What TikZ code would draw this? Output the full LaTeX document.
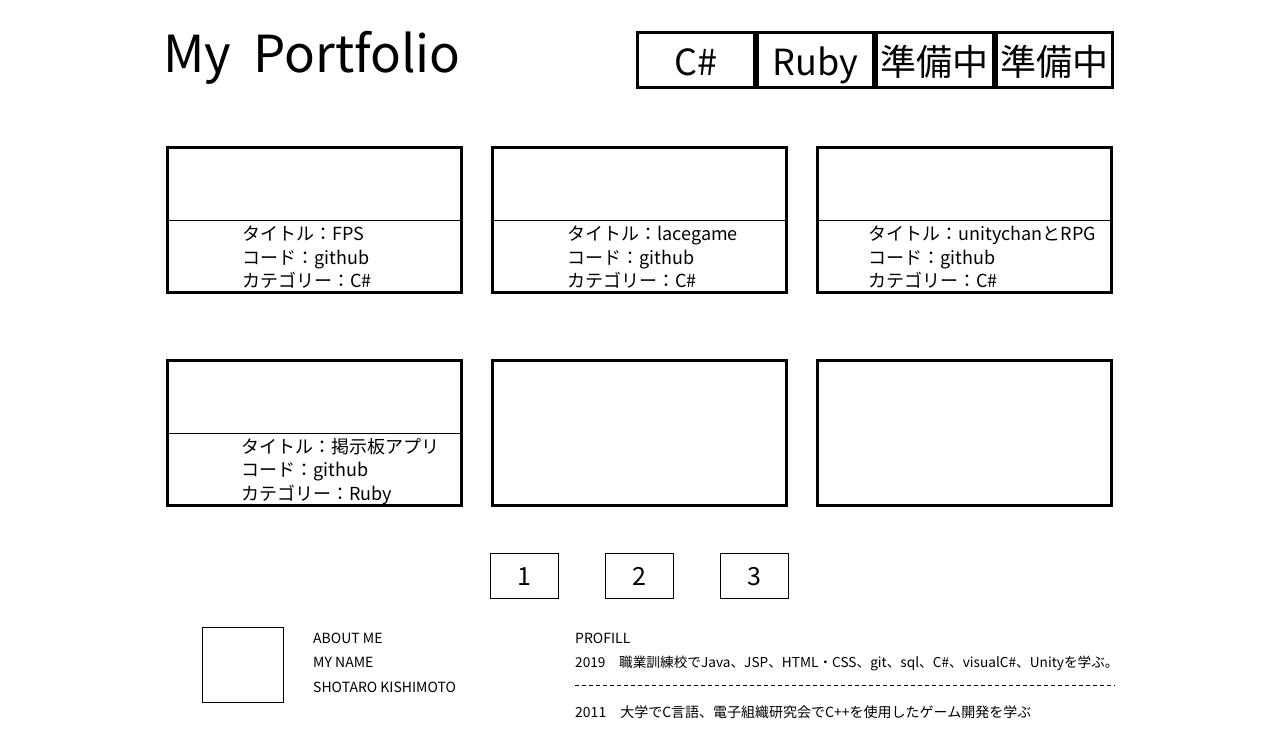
\documentclass[tikz,border=0pt]{standalone}
\usepackage{fontspec}
\setmainfont{Noto Sans CJK JP}
\usepackage{tikz}
\usetikzlibrary{matrix}

\begin{document}
\begin{tikzpicture}[x=1pt, y=-1pt,
    cardtext/.style={align=left, inner sep=0, anchor=north west, font=\fontsize{18}{23.5}\selectfont},
    small/.style={inner sep=0, anchor=west, font=\fontsize{14}{16}\selectfont}]
    \useasboundingbox (0,0) rectangle (1280,750);

    \node (title)[anchor=base west, inner sep=0, font=\fontsize{51}{56}\selectfont] at (163,72) {My\ \hspace{11pt}Portfolio};

    \matrix (tabs)[anchor=north west, inner sep=0, column sep=0pt, every node/.style={draw, line width=3pt, minimum width=116.5pt, minimum height=55pt, inner sep=0, text height=31pt, text depth=1pt, font=\fontsize{36}{40}\selectfont}] at (636,31)
    {
      \node (csharp) {C\#}; & \node (ruby) {Ruby}; & \node (soon1) {準備中}; & \node (soon2) {準備中}; \\
    };

    \matrix (works)[anchor=north west, inner sep=0, column sep=28pt, row sep=65pt, every node/.style={draw, line width=3pt, minimum width=294pt, minimum height=145pt, outer sep=0}] at (166,146)
    {
      \node (fps) {}; & \node (lace) {}; & \node (unity) {}; \\
      \node (board) {}; & \node (empty1) {}; & \node (empty2) {}; \\
    };
    \foreach \w in {fps,lace,unity,board}
      \draw[line width=0.8pt] ([yshift=-72.5pt]\w.north west) -- ([yshift=-72.5pt]\w.north east);

    \node (fpstext)[cardtext] at ([xshift=74.5pt, yshift=-78pt]fps.north west) {タイトル：FPS\\コード：github\\カテゴリー：C\#};
    \node (lacetext)[cardtext] at ([xshift=74.5pt, yshift=-78pt]lace.north west) {タイトル：lacegame\\コード：github\\カテゴリー：C\#};
    \node (unitytext)[cardtext] at ([xshift=50.5pt, yshift=-78pt]unity.north west) {タイトル：unitychanとRPG\\コード：github\\カテゴリー：C\#};
    \node (boardtext)[cardtext] at ([xshift=73.5pt, yshift=-77pt]board.north west) {タイトル：掲示板アプリ\\コード：github\\カテゴリー：Ruby};

    \matrix (pages)[anchor=north west, inner sep=0, column sep=46pt, every node/.style={draw, line width=1pt, minimum width=68pt, minimum height=45pt, font=\fontsize{25}{28}\selectfont}] at (490,553)
    {
      \node (p1) {1}; & \node (p2) {2}; & \node (p3) {3}; \\
    };

    \node (photo)[draw, line width=1pt, minimum width=81pt, minimum height=75pt, anchor=north west, outer sep=0] at (202.5,627.5) {};
    \node (about)[small] at (313,638) {ABOUT ME};
    \node (myname)[small] at (313,662) {MY NAME};
    \node (fullname)[small] at (313,687) {SHOTARO KISHIMOTO};

    \node (profile)[small] at (575,638) {PROFILL};
    \node (y2019)[small, font=\fontsize{13.65}{16}\selectfont] at (575,663) {2019　職業訓練校でJava、JSP、HTML・CSS、git、sql、C\#、visualC\#、Unityを学ぶ。};
    \coordinate (dashL) at (575,685);
    \coordinate (dashR) at (1115,685);
    \draw[line width=0.8pt, dash pattern=on 4pt off 3pt] (dashL) -- (dashR);
    \node (y2011)[small] at (575,712) {2011　大学でC言語、電子組織研究会でC++を使用したゲーム開発を学ぶ};
\end{tikzpicture}
\end{document}
